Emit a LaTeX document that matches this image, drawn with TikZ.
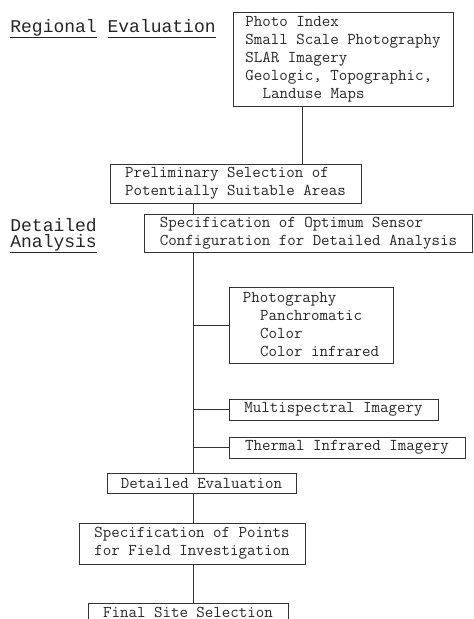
\documentclass[tikz,border=0pt]{standalone}
\usepackage{fontspec}
\newfontfamily\labelfont{Liberation Mono}
\newcommand\ulword[1]{\underline{#1\vphantom{gy}}}

\begin{document}
\begin{tikzpicture}
  [x=1pt,y=-1pt,line width=.8pt,draw=black!80,
   every node/.style={font=\ttfamily\fontsize{16.5}{18}\selectfont,text=black!85},
   box/.style={draw,align=left,inner xsep=4pt,inner ysep=1pt},
   lbl/.style={anchor=base west,inner sep=0pt,align=left,font=\labelfont\fontsize{18}{15.5}\selectfont}]
  \useasboundingbox (0,0) rectangle (474,619);

  \node (reg)[lbl] at (10,32) {\ulword{Regional} \ulword{Evaluation}};
  \node (det)[lbl] at (10,247) {Detailed\\\ulword{Analysis}};

  \node (idx)[box,minimum width=220pt,minimum height=94pt] at (343,59)
    {Photo Index\\Small Scale Photography\\SLAR Imagery\\Geologic, Topographic,\\\hspace*{1.05em}Landuse Maps};
  \node (pre)[box,minimum width=251pt,minimum height=39pt] at (235.5,183.5)
    {Preliminary Selection of\\Potentially Suitable Areas};
  \node (opt)[box,minimum width=328pt,minimum height=38pt] at (308.5,233)
    {Specification of Optimum Sensor\\Configuration for Detailed Analysis};
  \node (pho)[box,minimum width=164pt,minimum height=76pt] at (311,325)
    {Photography\\\hspace*{1.05em}Panchromatic\\\hspace*{1.05em}Color\\\hspace*{1.05em}Color infrared};
  \node (msi)[box,minimum width=209pt,minimum height=21pt] at (333.5,409.5) {Multispectral Imagery};
  \node (tir)[box,minimum width=236pt,minimum height=21pt] at (347,447.5) {Thermal Infrared Imagery};
  \node (dev)[box,minimum width=189pt,minimum height=20pt] at (201.5,483.5) {Detailed Evaluation};
  \node (pts)[box,minimum width=226pt,minimum height=41pt] at (192,543.5)
    {Specification of Points\\for Field Investigation};
  \node (fin)[box,minimum width=200pt,minimum height=18pt] at (188,612) {Final Site Selection};

  \coordinate (drop) at (302,0);
  \coordinate (trunk) at (193.5,0);

  \draw (idx.south -| drop) -- (pre.north -| drop);
  \foreach \from/\to in {pre/opt,opt/dev,dev/pts,pts/fin}
    \draw (\from.south -| trunk) -- (\to.north -| trunk);
  \foreach \b in {pho,msi,tir}
    \draw (trunk |- \b.west) -- (\b.west);

\end{tikzpicture}
\end{document}
